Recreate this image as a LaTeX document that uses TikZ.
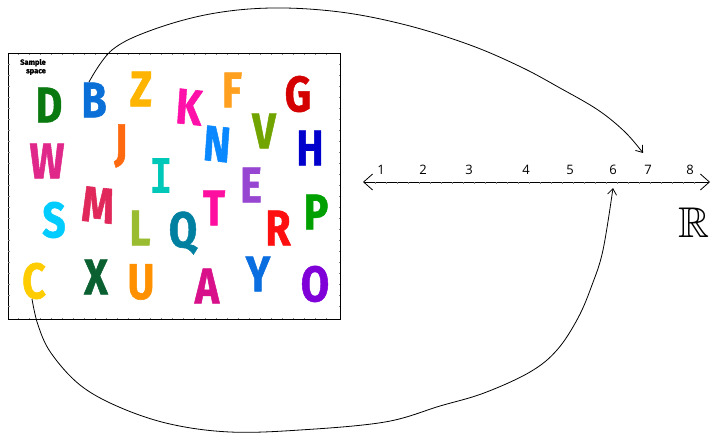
\documentclass[tikz,border=0pt]{standalone}
\usepackage{fontspec}
\usepackage{amssymb}
\usetikzlibrary{arrows.meta}
\newfontfamily\letterfont[BoldFeatures={FakeBold=1.2}]{Fira Sans}
\newfontfamily\monoletter{DejaVu Sans Mono}
\newfontfamily\numfont{Open Sans}
\definecolor{cD}{RGB}{10,122,16}
\definecolor{cB}{RGB}{10,111,214}
\definecolor{cZ}{RGB}{255,180,0}
\definecolor{cK}{RGB}{255,16,168}
\definecolor{cF}{RGB}{255,160,32}
\definecolor{cG}{RGB}{212,0,0}
\definecolor{cW}{RGB}{224,40,138}
\definecolor{cJ}{RGB}{255,106,16}
\definecolor{cN}{RGB}{10,136,255}
\definecolor{cV}{RGB}{114,164,0}
\definecolor{cH}{RGB}{0,0,204}
\definecolor{cI}{RGB}{0,200,184}
\definecolor{cS}{RGB}{0,204,255}
\definecolor{cM}{RGB}{224,40,90}
\definecolor{cE}{RGB}{150,70,208}
\definecolor{cT}{RGB}{255,15,160}
\definecolor{cP}{RGB}{0,160,0}
\definecolor{cL}{RGB}{154,188,48}
\definecolor{cQ}{RGB}{0,128,160}
\definecolor{cR}{RGB}{255,16,16}
\definecolor{cC}{RGB}{255,204,0}
\definecolor{cX}{RGB}{10,96,48}
\definecolor{cU}{RGB}{255,144,0}
\definecolor{cA}{RGB}{216,16,138}
\definecolor{cY}{RGB}{10,110,224}
\definecolor{cO}{RGB}{128,0,216}
\tikzset{
  letter/.style={inner sep=0pt, font=\letterfont\bfseries\fontsize{50}{50}\selectfont, xscale=0.82, transform shape},
  numlabel/.style={inner sep=0pt, font=\numfont\fontsize{13}{13}\selectfont},
  mapcurve/.style={line width=0.8pt, -{Straight Barb[length=6pt,width=9pt]}},
}
\begin{document}
\begin{tikzpicture}[x=1pt,y=-1pt]
\useasboundingbox (0,0) rectangle (711,433);
% sample space box
\draw[line width=1pt] (8,54) rectangle (340,319);
\foreach \x in {18,29,...,335} {\draw[line width=0.5pt,gray] (\x,54) -- (\x,55.5); \draw[line width=0.5pt,gray] (\x,319) -- (\x,317.5);}
\foreach \y in {64,75,...,315} {\draw[line width=0.5pt,gray] (8,\y) -- (9.5,\y); \draw[line width=0.5pt,gray] (340,\y) -- (338.5,\y);}
\node[inner sep=0pt, font=\letterfont\bfseries\fontsize{7.5}{8.5}\selectfont, align=center] (ss) at (33,67) {Sample\\ \hspace*{6pt}space};
% letters
\node[letter,text=cD] (D) at (49,105) {D};
\node[letter,text=cB] (B) at (94,100) {B};
\node[letter,text=cZ] (Z) at (141,89) {Z};
\node[letter,text=cK,rotate=-5] (K) at (189,107) {K};
\node[letter,text=cF] (F) at (232,90) {F};
\node[letter,text=cG] (G) at (298,94) {G};
\node[letter,text=cW] (W) at (47,161) {W};
\node[letter,text=cJ] (J) at (121,146) {J};
\node[letter,text=cN,rotate=-5] (N) at (217,144) {N};
\node[letter,text=cV] (V) at (264,131) {V};
\node[letter,text=cH] (H) at (310,148) {H};
\node[letter,text=cI,font=\monoletter\bfseries\fontsize{48}{48}\selectfont] (I) at (161,176) {I};
\node[letter,text=cS] (S) at (54,220) {S};
\node[letter,text=cM,rotate=-5] (M) at (98,205) {M};
\node[letter,text=cE] (E) at (251,185) {E};
\node[letter,text=cT] (T) at (214,208) {T};
\node[letter,text=cP] (P) at (316,212) {P};
\node[letter,text=cL] (L) at (140,228) {L};
\node[letter,text=cQ] (Q) at (183,233) {Q};
\node[letter,text=cR] (R) at (278,228) {R};
\node[letter,text=cC] (C) at (34,281) {C};
\node[letter,text=cX] (X) at (96,277) {X};
\node[letter,text=cU] (U) at (141,282) {U};
\node[letter,text=cA] (A) at (207,286) {A};
\node[letter,text=cY] (Y) at (258,274) {Y};
\node[letter,text=cO] (O) at (315,284) {O};
% number line
\coordinate (nl) at (363,182);
\coordinate (nr) at (710,182);
\draw[line width=0.8pt, {Straight Barb[length=9pt,width=16pt]}-{Straight Barb[length=9pt,width=16pt]}] (nl) -- (nr);
\foreach \x in {375,386,...,700} {\draw[line width=0.5pt,gray] (\x,182) -- (\x,183.8);}
\node[numlabel] (n1) at (381,170) {1};
\node[numlabel] (n2) at (423,170) {2};
\node[numlabel] (n3) at (469,170) {3};
\node[numlabel] (n4) at (526,170) {4};
\node[numlabel] (n5) at (570,170) {5};
\node[numlabel] (n6) at (613,170) {6};
\node[numlabel] (n7) at (648,170) {7};
\node[numlabel] (n8) at (690,170) {8};
\node[inner sep=0pt, font=\fontsize{43}{43}\selectfont] (RR) at (694,223) {$\mathbb{R}$};
% mapping curves
\coordinate (t7) at (643,153);
\coordinate (t6) at (613,188);
\draw[mapcurve] plot[smooth, tension=0.6] coordinates {(89,82) (112,50) (152,30) (210,14) (272,8) (340,12) (406,25) (470,45) (521,67) (560,88) (598,110) (625,132) (t7)};
\draw[mapcurve] plot[smooth, tension=0.6] coordinates {(32,299) (38,325) (51,353) (80,385) (119,407) (170,424) (230,432) (300,430) (385,422) (440,406) (484,393) (530,372) (557,350) (578,318) (592,285) (603,250) (t6)};
\end{tikzpicture}
\end{document}
